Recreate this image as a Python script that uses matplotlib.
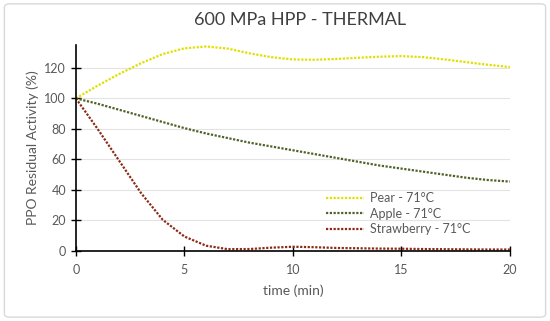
import matplotlib
matplotlib.use("Agg")
import matplotlib.pyplot as plt
from matplotlib.patches import FancyBboxPatch

time_min = [0, 1, 2, 3, 4, 5, 6, 7, 8, 9, 10, 11, 12, 13, 14, 15, 16, 17, 18, 19, 20]
pear = [100, 108.3, 116, 123, 129, 132.8, 134, 132.6, 129.5, 127, 125.5, 125.3, 125.8, 126.6, 127.3, 127.7, 127, 125.5, 123.7, 122, 120.5]
apple = [100, 96.5, 92.5, 88.5, 84.5, 80.5, 77, 74, 71, 68.5, 66, 63.5, 61, 58.5, 56, 54, 52, 50, 48, 46.5, 45.5]
strawberry = [100, 80, 59, 38, 20.5, 9.5, 3.5, 1.2, 1.3, 2.2, 2.8, 2.5, 2, 1.8, 1.6, 1.5, 1.3, 1.2, 1.1, 1, 1]

series_labels = ["Pear - 71°C", "Apple - 71°C", "Strawberry - 71°C"]
series_colors = ["#e0e000", "#4f6228", "#8b2a17"]
title = "600 MPa HPP - THERMAL"
xticks = [0, 5, 10, 15, 20]
yticks = [0, 20, 40, 60, 80, 100, 120]

plt.rcParams['font.family'] = ['Lato', 'DejaVu Sans']
txt = "#595959"

fig = plt.figure(figsize=(5.5, 3.21), dpi=100)
border = FancyBboxPatch((0.008, 0.012), 0.984, 0.976, boxstyle="round,pad=0,rounding_size=0.01",
                        transform=fig.transFigure, facecolor="white", edgecolor="#d9d9d9", lw=1, zorder=-5)
fig.patches.append(border)
ax = fig.add_axes([0.138, 0.218, 0.789, 0.642])
ax.set_zorder(2)
ax.set_facecolor("none")

for vals, lab, col in zip([pear, apple, strawberry], series_labels, series_colors):
    ax.plot(time_min, vals, linestyle=(0, (1.0, 0.7)), color=col, lw=1.6, label=lab,
            dash_capstyle='butt', dash_joinstyle='round')

ax.set_xlim(0, 20)
ax.set_ylim(0, 135)
ax.set_xticks(xticks)
ax.set_yticks(yticks)
ax.yaxis.grid(True, color="#e3e3e3", lw=0.8)
ax.set_axisbelow(True)
for s in ["top", "right"]:
    ax.spines[s].set_visible(False)
for s in ["left", "bottom"]:
    ax.spines[s].set_color("black")
    ax.spines[s].set_linewidth(1.2)
ax.tick_params(direction='inout', length=7, width=1, colors="black", labelcolor=txt, labelsize=9)
ax.tick_params(axis='x', pad=6)

ax.set_xlabel("time (min)", color=txt, fontsize=10, labelpad=6)
ax.set_ylabel("PPO Residual Activity (%)", color=txt, fontsize=10, labelpad=4)
fig.text(0.545, 0.937, title, ha='center', va='center', color="#404040", fontsize=13)

leg = ax.legend(loc='upper left', bbox_to_anchor=(0.565, 0.31), frameon=False, fontsize=9,
                handlelength=3.0, handletextpad=0.5, labelspacing=0.28, borderaxespad=0)
for t in leg.get_texts():
    t.set_color(txt)

fig.savefig("out.png", dpi=100)
